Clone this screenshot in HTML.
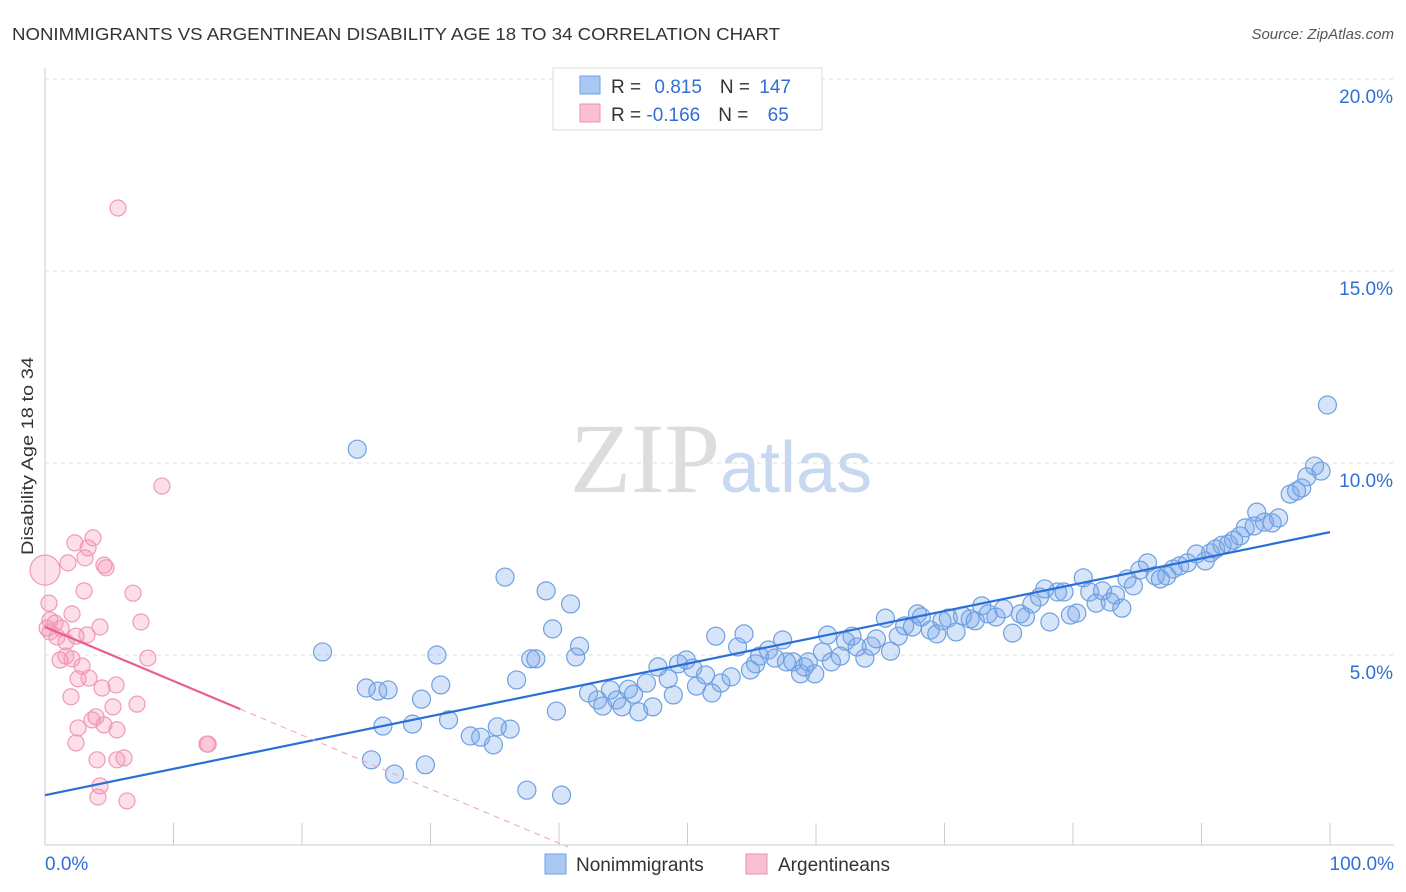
<!DOCTYPE html>
<html><head><meta charset="utf-8"><style>
body{margin:0;background:#fff;font-family:"Liberation Sans",sans-serif;}
#wrap{position:relative;width:1406px;height:892px;overflow:hidden;}
</style></head><body>
<div id="wrap">
<svg id="svg" width="1406" height="892" xmlns="http://www.w3.org/2000/svg">
<text x="12" y="40" font-size="17.5" fill="#333" textLength="768" lengthAdjust="spacingAndGlyphs">NONIMMIGRANTS VS ARGENTINEAN DISABILITY AGE 18 TO 34 CORRELATION CHART</text>
<text x="1394" y="39" font-size="15" fill="#555" font-style="italic" text-anchor="end">Source: ZipAtlas.com</text>
<text x="720" y="492" font-size="100" fill="#ddd" text-anchor="end" font-family="Liberation Serif,serif">ZIP</text>
<text x="720" y="492" font-size="72" fill="#c8d8f0">atlas</text>
<g id="grid"></g><g id="axes"></g><g id="marks"></g>
<text transform="translate(33,456) rotate(-90)" font-size="17" fill="#333" text-anchor="middle" textLength="198" lengthAdjust="spacingAndGlyphs">Disability Age 18 to 34</text>
<g>
<rect x="553" y="68" width="269" height="62" fill="#fff" stroke="#ddd"/>
<rect x="580" y="76" width="20" height="18" fill="#aac8f4" stroke="#6fa0e0"/>
<rect x="580" y="104" width="20" height="18" fill="#f8c0d0" stroke="#f090b0"/>
<text x="611" y="93" font-size="19" fill="#333">R = <tspan fill="#2f6fd6" dx="8">0.815</tspan><tspan dx="18" fill="#333">N = </tspan><tspan fill="#2f6fd6" dx="4">147</tspan></text>
<text x="611" y="121" font-size="19" fill="#333">R = <tspan fill="#2f6fd6">-0.166</tspan><tspan dx="18" fill="#333">N = </tspan><tspan fill="#2f6fd6" dx="14">65</tspan></text>
</g>
<g>
<rect x="545" y="854" width="21" height="20" fill="#aac8f4" stroke="#6fa0e0"/>
<text x="576" y="871" font-size="19" fill="#333">Nonimmigrants</text>
<rect x="746" y="854" width="21" height="20" fill="#f8c0d0" stroke="#f090b0"/>
<text x="778" y="871" font-size="19" fill="#333">Argentineans</text>
</g>
</svg>
</div>
<script>
const yTicks=[5,10,15,20];
const yTickLabels=["5.0%","10.0%","15.0%","20.0%"];
const xTicks=[0,10,20,30,40,50,60,70,80,90,100];
const blueX=[24.3,21.6,25.0,25.9,26.7,26.3,25.4,27.2,28.6,29.3,29.6,30.5,30.8,31.4,33.1,33.9,34.9,35.2,36.2,35.8,36.7,37.8,38.2,39.0,39.5,39.8,41.3,41.6,40.9,37.5,40.2,42.3,43.0,43.4,44.0,44.5,44.9,45.4,45.8,46.2,46.8,47.3,47.7,48.5,48.9,49.3,49.9,50.4,50.7,51.4,51.9,52.2,52.6,53.4,53.9,54.4,54.9,55.3,55.6,56.3,56.8,57.4,57.7,58.2,58.8,59.1,59.4,59.9,60.5,60.9,61.2,61.9,62.3,62.8,63.2,63.8,64.3,64.7,65.4,65.8,66.4,66.9,67.5,67.9,68.2,68.9,69.4,69.8,70.3,70.9,71.4,72.0,72.4,72.9,73.4,74.0,74.6,75.3,75.9,76.3,76.8,77.4,77.8,78.2,78.8,79.3,79.8,80.3,80.8,81.3,81.8,82.3,82.9,83.3,83.8,84.2,84.7,85.2,85.8,86.4,86.8,87.3,87.8,88.3,88.9,89.6,90.3,90.7,91.1,91.6,92.1,92.5,93.0,93.4,94.1,94.3,94.9,95.5,96.0,96.9,97.4,97.8,98.2,98.8,99.3,99.8];
const blueY=[10.36,5.08,4.14,4.06,4.09,3.15,2.27,1.90,3.20,3.85,2.14,5.0,4.22,3.31,2.89,2.86,2.66,3.13,3.07,7.03,4.35,4.90,4.90,6.67,5.68,3.54,4.95,5.23,6.33,1.48,1.35,4.01,3.83,3.67,4.09,3.83,3.65,4.11,3.98,3.52,4.27,3.65,4.69,4.38,3.96,4.77,4.87,4.66,4.19,4.48,4.01,5.49,4.27,4.43,5.21,5.55,4.61,4.77,4.97,5.13,4.92,5.39,4.82,4.82,4.51,4.69,4.82,4.51,5.08,5.52,4.82,4.97,5.36,5.49,5.21,4.92,5.23,5.42,5.96,5.10,5.49,5.76,5.73,6.07,5.99,5.65,5.55,5.89,5.96,5.60,6.02,5.94,5.89,6.28,6.07,5.99,6.20,5.57,6.07,5.99,6.33,6.51,6.72,5.86,6.64,6.64,6.04,6.09,7.01,6.64,6.35,6.67,6.38,6.56,6.22,6.98,6.80,7.21,7.40,7.06,6.98,7.06,7.24,7.32,7.40,7.63,7.45,7.66,7.76,7.86,7.89,7.99,8.10,8.31,8.36,8.72,8.46,8.44,8.57,9.19,9.27,9.35,9.64,9.92,9.79,11.51];
const pinkX=[5.68,9.1,3.74,2.33,3.35,4.59,4.75,3.11,1.79,0,0.31,3.04,6.85,2.1,0.39,0.78,7.47,1.25,4.28,0.16,2.41,3.27,0.93,1.63,0.39,8.0,1.17,2.10,1.63,2.88,2.57,3.42,5.53,4.44,2.02,7.16,5.29,3.97,2.57,3.66,4.59,2.41,5.60,12.6,12.7,4.05,6.15,5.60,4.28,4.12,6.38];
const pinkY=[16.64,9.40,8.05,7.92,7.79,7.34,7.27,7.53,7.40,7.21,6.35,6.67,6.61,6.07,5.91,5.83,5.86,5.70,5.73,5.70,5.49,5.52,5.47,5.34,5.60,4.92,4.87,4.90,4.97,4.71,4.38,4.40,4.22,4.14,3.91,3.72,3.65,3.39,3.10,3.31,3.18,2.71,3.05,2.68,2.68,2.27,2.32,2.27,1.59,1.30,1.20];
const pinkR=[8,8,8,8,8,8,8,8,8,15,8,8,8,8,8,8,8,8,8,8,8,8,8,8,8,8,8,8,8,8,8,8,8,8,8,8,8,8,8,8,8,8,8,8,8,8,8,8,8,8,8];
const blueTrend=[1.35,8.2];
const pinkTrend=[5.73,3.59,15.2];
const NS="http://www.w3.org/2000/svg";
const sx=v=>45+v*12.85, sy=v=>847-v*38.4;
function mk(t,a,p){const e=document.createElementNS(NS,t);for(const k in a)e.setAttribute(k,a[k]);p.appendChild(e);return e;}
const grid=document.getElementById('grid'),axes=document.getElementById('axes'),marks=document.getElementById('marks');
yTicks.forEach((v,i)=>{
 const l=mk('line',{x1:45,x2:1394,y1:sy(v),y2:sy(v),stroke:'#ddd','stroke-dasharray':'4,4'},grid);
 
 
 const t=mk('text',{x:1393,y:sy(v)+24,'font-size':19,fill:'#2f6fd6','text-anchor':'end'},grid);
 t.textContent=yTickLabels[i];
 
 
});
let ax=mk('line',{x1:45,x2:45,y1:68,y2:845,stroke:'#ccc'},axes);


let bx=mk('line',{x1:45,x2:1394,y1:845,y2:845,stroke:'#ccc'},axes);


xTicks.forEach(v=>{const t=mk('line',{x1:sx(v),x2:sx(v),y1:823,y2:845,stroke:'#ccc'},axes);
 
 });
let xl=mk('text',{x:45,y:870,'font-size':19,fill:'#2f6fd6'},axes);xl.textContent='0.0%';


let xr=mk('text',{x:1394,y:870,'font-size':19,fill:'#2f6fd6','text-anchor':'end'},axes);xr.textContent='100.0%';


pinkX.forEach((x,i)=>{const c=mk('circle',{cx:sx(x),cy:sy(pinkY[i]),r:pinkR[i],fill:'rgba(245,150,180,0.3)',stroke:'#f09ab5','stroke-width':1.2},marks);
 
 });
blueX.forEach((x,i)=>{const c=mk('circle',{cx:sx(x),cy:sy(blueY[i]),r:9,fill:'rgba(120,165,235,0.3)',stroke:'#6fa0e0','stroke-width':1.2},marks);
 
 });
let bt=mk('line',{x1:sx(0),y1:sy(blueTrend[0]),x2:sx(100),y2:sy(blueTrend[1]),stroke:'#2a6fd6','stroke-width':2.2},marks);


const slope=(pinkTrend[1]-pinkTrend[0])/pinkTrend[2];
let pt=mk('line',{x1:sx(0),y1:sy(pinkTrend[0]),x2:sx(pinkTrend[2]),y2:sy(pinkTrend[1]),stroke:'#e8608a','stroke-width':2.2},marks);


const xe=-pinkTrend[0]/slope;
let pd=mk('line',{x1:sx(pinkTrend[2]),y1:sy(pinkTrend[1]),x2:sx(xe),y2:sy(0),stroke:'#f0a0b8','stroke-width':1,'stroke-dasharray':'6,5'},marks);


</script>
</body></html>
